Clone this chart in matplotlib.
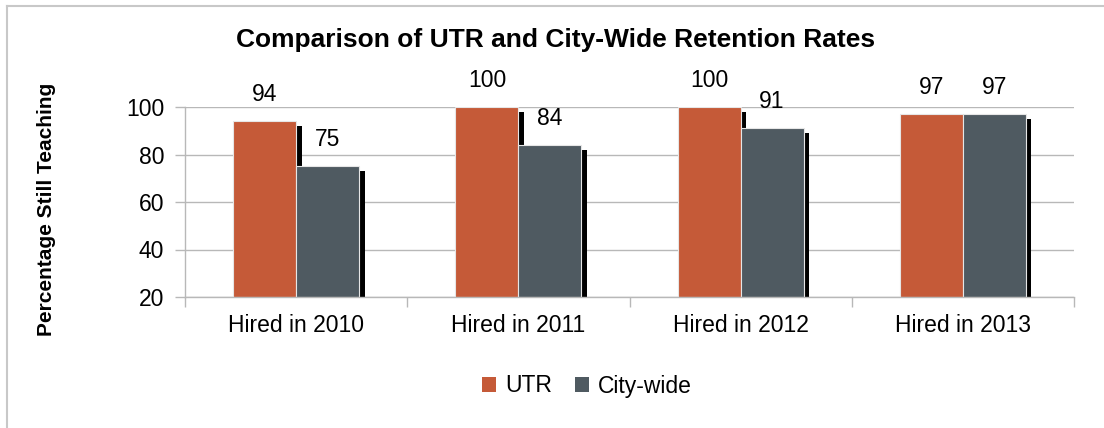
import matplotlib
matplotlib.use("Agg")
import matplotlib.pyplot as plt
import matplotlib.patheffects as pe
from matplotlib.patches import Patch
from matplotlib.lines import Line2D
import numpy as np

# Data
categories = ["Hired in 2010", "Hired in 2011", "Hired in 2012", "Hired in 2013"]
utr_rates = [94, 100, 100, 97]
citywide_rates = [75, 84, 91, 97]
series_names = ["UTR", "City-wide"]
y_ticks = [20, 40, 60, 80, 100]

UTR_COLOR = "#C55A38"
CITY_COLOR = "#4F5A61"
GRID_COLOR = "#B8B8B8"

plt.rcParams["font.family"] = ["Liberation Sans", "DejaVu Sans"]

fig = plt.figure(figsize=(11.04, 4.28), dpi=100)
ax = fig.add_axes([185 / 1104, 1 - 297 / 428, 889 / 1104, 190 / 428])

x = np.arange(len(categories))
width = 0.283
shadow = [pe.SimplePatchShadow(offset=(4, -3.3), shadow_rgbFace="black", alpha=1.0), pe.Normal()]

bars_utr = ax.bar(x - width / 2, np.array(utr_rates) - y_ticks[0], width, bottom=y_ticks[0],
                  color=UTR_COLOR, edgecolor="#E6E6E6", linewidth=0.8, zorder=3)
bars_city = ax.bar(x + width / 2, np.array(citywide_rates) - y_ticks[0], width, bottom=y_ticks[0],
                   color=CITY_COLOR, edgecolor="#E6E6E6", linewidth=0.8, zorder=3)
for b in list(bars_utr) + list(bars_city):
    b.set_path_effects(shadow)

# value labels above the bars
for bars, vals in ((bars_utr, utr_rates), (bars_city, citywide_rates)):
    for b, v in zip(bars, vals):
        ax.annotate(str(v), (b.get_x() + b.get_width() / 2, v), xytext=(0, 19),
                    textcoords="offset points", ha="center", va="center",
                    fontsize=16.5, annotation_clip=False)

ax.set_xlim(-0.5, len(categories) - 0.5)
ax.set_ylim(y_ticks[0], y_ticks[-1])
ax.set_yticks(y_ticks)
ax.set_xticks(x)
ax.set_xticklabels(categories)
ax.set_xticks(np.arange(len(categories) + 1) - 0.5, minor=True)
ax.tick_params(axis="x", which="major", length=0, labelsize=16.5, pad=12)
ax.tick_params(axis="x", which="minor", length=7, color=GRID_COLOR, width=1)
ax.tick_params(axis="y", length=7, color=GRID_COLOR, width=1, labelsize=16.5, pad=8)

ax.grid(axis="y", color=GRID_COLOR, linewidth=1, zorder=0)
ax.set_axisbelow(True)
for side in ("top", "right"):
    ax.spines[side].set_visible(False)
for side in ("left", "bottom"):
    ax.spines[side].set_color(GRID_COLOR)
    ax.spines[side].set_linewidth(1)
    ax.spines[side].set_zorder(4)

ax.set_ylabel("Percentage Still Teaching", fontsize=15, fontweight="bold", va="center")
ax.yaxis.set_label_coords(47 / 1104, 1 - 209 / 428, transform=fig.transFigure)
fig.text(556 / 1104, 1 - 40 / 428, "Comparison of UTR and City-Wide Retention Rates",
         ha="center", va="center", fontsize=19, fontweight="bold")

handles = [Patch(facecolor=UTR_COLOR, edgecolor="none"),
           Patch(facecolor=CITY_COLOR, edgecolor="none")]
fig.legend(handles, series_names, loc="center", bbox_to_anchor=(587 / 1104, 1 - 386 / 428),
           ncol=2, frameon=False, fontsize=16.5, handlelength=0.6, handleheight=0.6,
           handletextpad=0.4, columnspacing=1.0)

# outer chart border (left and top visible in the reference)
fig.add_artist(Line2D([7 / 1104, 7 / 1104], [0, 1 - 6 / 428], transform=fig.transFigure,
                      color="#C8C8C8", linewidth=1.5))
fig.add_artist(Line2D([7 / 1104, 1], [1 - 6 / 428, 1 - 6 / 428], transform=fig.transFigure,
                      color="#C8C8C8", linewidth=1.5))

fig.savefig("out.png", dpi=100)
